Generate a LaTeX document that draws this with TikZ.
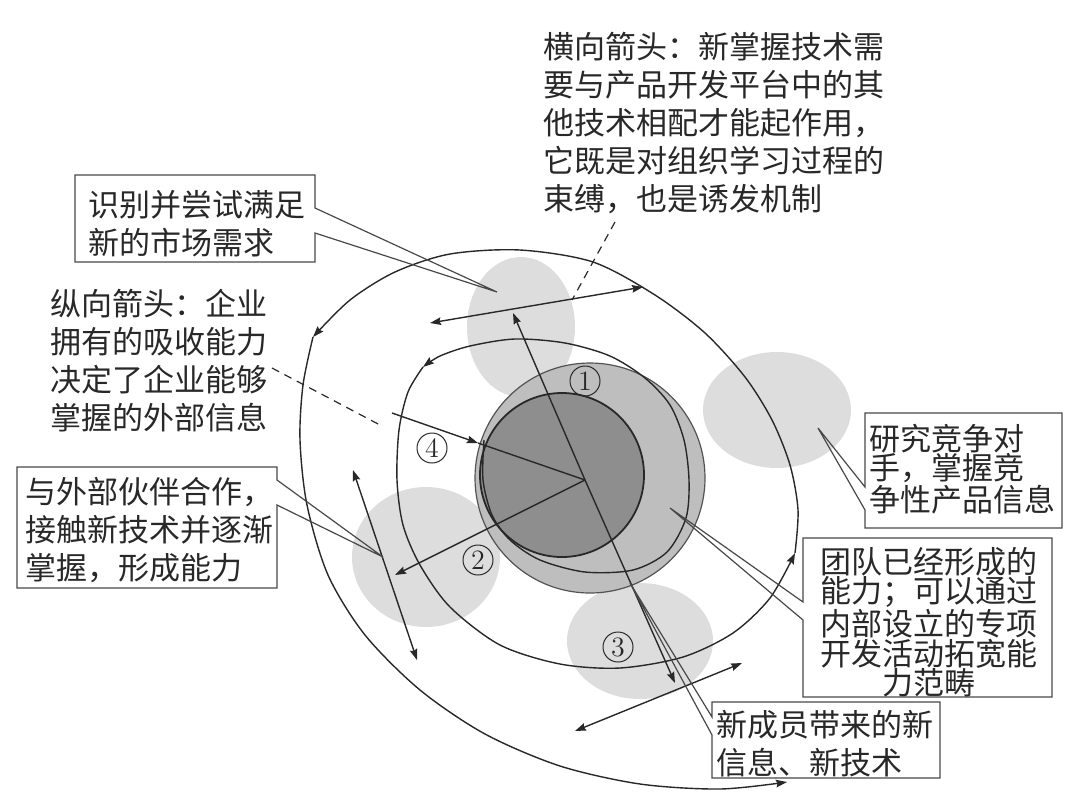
\documentclass[tikz,border=0pt]{standalone}
\usepackage{fontspec}
\newfontfamily\cjk{Noto Sans CJK SC}
\usetikzlibrary{arrows.meta,calc}
\definecolor{blob}{RGB}{221,221,221}
\definecolor{midgrey}{RGB}{190,190,190}
\definecolor{darkgrey}{RGB}{142,142,142}
\definecolor{ink}{RGB}{40,40,40}
\begin{document}
\begin{tikzpicture}[x=0.5pt,y=-0.5pt,
  ln/.style={draw=ink,line width=0.7pt},
  tip/.tip={Stealth[length=5.5pt,width=3.8pt,inset=0.7pt]},
  arr/.style={ln,-tip},
  darr/.style={ln,tip-tip},
  dsh/.style={draw=ink,line width=0.6pt,dash pattern=on 4pt off 3pt},
  callout/.style={draw=ink!85,line width=0.6pt},
  txt/.style={anchor=north west,inner sep=0pt,align=left,text=ink,font=\cjk\fontsize{15.5pt}{19pt}\selectfont},
  txttight/.style={txt,font=\cjk\fontsize{15.5pt}{14.6pt}\selectfont},
  num/.style={circle,draw=ink,line width=0.5pt,minimum size=15pt,inner sep=0pt,text=ink,font=\fontsize{14pt}{14pt}\selectfont}]
\useasboundingbox (0,0) rectangle (1080,810);

% light blobs
\fill[blob] (521,327) ellipse [x radius=54, y radius=70];
\fill[blob] (777,410) ellipse [x radius=74, y radius=58];
\fill[blob] (426,557) ellipse [x radius=74, y radius=70];
\fill[blob] (640,641) ellipse [x radius=73, y radius=58];

% core circles
\filldraw[fill=midgrey,draw=ink!80,line width=0.6pt] (590,478) circle [radius=115];
\filldraw[fill=darkgrey,draw=ink,line width=0.9pt] (562,475) circle [radius=82];

% spiral, in four pieces, each ending in an arrowhead
\coordinate (sa1) at (423,367);
\coordinate (sa2) at (795,553);
\coordinate (sa3) at (313,337);
\coordinate (sa4) at (787,782);
\draw[arr] plot[smooth] coordinates {
 (484,440) (483,480) (492,515) (510,540) (540,560) (585,572) (633,570) (667,552)
 (686,518) (689,480) (684,440) (670,405) (645,378) (610,356) (565,343) (515,339)
 (470,346) (440,356) (423,367)};
\draw[arr] plot[smooth] coordinates {
 (423,367) (408,392) (399,430) (397,480) (403,525) (420,565) (450,607) (500,645)
 (560,664) (620,668) (683,657) (733,633) (770,598) (795,553)};
\draw[arr] plot[smooth] coordinates {
 (795,553) (798,510) (790,465) (772,420) (745,377) (705,333) (655,295) (593,262)
 (520,250) (450,254) (395,272) (350,300) (313,337)};
\draw[arr] plot[smooth] coordinates {
 (313,337) (303,385) (300,440) (307,505) (328,575) (365,635) (420,690) (485,734)
 (560,766) (640,784) (720,789) (787,782)};

% radial arrows
\coordinate (O) at (585,480);
\coordinate (up) at (513,313);
\coordinate (two) at (395,575);
\coordinate (three) at (675,683);
\coordinate (fs) at (392,413);
\coordinate (fe) at (478,443);
\draw[arr] (O) -- (up);
\draw[arr] (O) -- (two);
\draw[arr] (O) -- (three);
\draw[arr] (fs) -- (fe);
\draw[ln] (fe) -- (O);

% double arrows
\coordinate (h1) at (430,323); \coordinate (h2) at (643,287);
\coordinate (l1) at (353,470); \coordinate (l2) at (417,660);
\coordinate (b1) at (575,731); \coordinate (b2) at (742,663);
\draw[darr] (h1) -- (h2);
\draw[darr] (l1) -- (l2);
\draw[darr] (b1) -- (b2);

% circled numbers
\node[num] (n1) at (585,381) {1};
\node[num] (n4) at (432,448) {4};
\node[num] (n2) at (478,560) {2};
\node[num] (n3) at (618,647) {3};

% free texts
\node[txt] (tH) at (543,32) {横向箭头：新掌握技术需\\要与产品开发平台中的其\\他技术相配才能起作用，\\它既是对组织学习过程的\\束缚，也是诱发机制};
\node[txt] (tV) at (50,289) {纵向箭头：企业\\拥有的吸收能力\\决定了企业能够\\掌握的外部信息};
\coordinate (dH1) at (615,222); \coordinate (dH2) at (572,300);
\coordinate (dV1) at (272,368); \coordinate (dV2) at (380,425);
\draw[dsh] (dH1) -- (dH2);
\draw[dsh] (dV1) -- (dV2);

% callouts
\draw[callout] (75,175) -- (315,175) -- (315,208) -- (497,292) -- (315,233) -- (315,262) -- (75,262) -- cycle;
\node[txt] (c1) at (88,190) {识别并尝试满足\\新的市场需求};

\draw[callout] (17,467) -- (277,467) -- (277,480) -- (383,557) -- (277,505) -- (277,588) -- (17,588) -- cycle;
\node[txt] (c2) at (25,477) {与外部伙伴合作，\\接触新技术并逐渐\\掌握，形成能力};

\draw[callout] (865,413) -- (1062,413) -- (1062,528) -- (865,528) -- (865,510) -- (818,428) -- (865,487) -- cycle;
\node[txttight] (c3) at (869,424) {研究竞争对\\手，掌握竞\\争性产品信息};

\draw[callout] (803,538) -- (1052,538) -- (1052,697) -- (803,697) -- (803,620) -- (670,508) -- (803,602) -- cycle;
\node[txttight,align=center] (c4) at (820,547) {团队已经形成的\\能力；可以通过\\内部设立的专项\\开发活动拓宽能\\力范畴};

\draw[callout] (712,702) -- (940,702) -- (940,778) -- (712,778) -- (712,735) -- (630,583) -- (712,717) -- cycle;
\node[txt] (c5) at (716,710) {新成员带来的新\\信息、新技术};
\end{tikzpicture}
\end{document}
